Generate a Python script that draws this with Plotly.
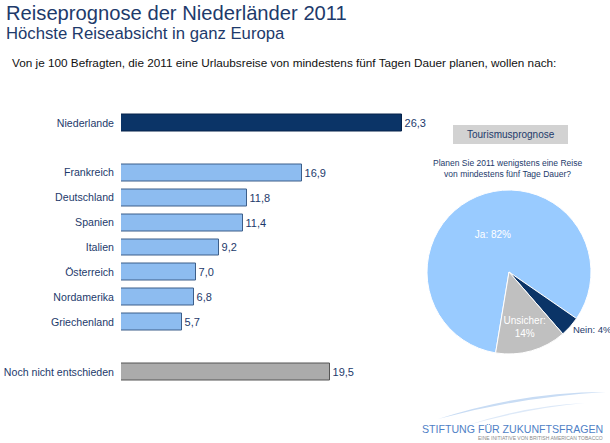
import plotly.graph_objects as go

# ---- data ----
categories = ["Niederlande", "Frankreich", "Deutschland", "Spanien", "Italien",
              "Österreich", "Nordamerika", "Griechenland", "Noch nicht entschieden"]
values = [26.3, 16.9, 11.8, 11.4, 9.2, 7.0, 6.8, 5.7, 19.5]
positions = [0, 2, 3, 4, 5, 6, 7, 8, 10]   # slots, with gaps after first and before last
bar_colors = ["#0b3467"] + ["#8dbcf0"] * 7 + ["#ababab"]
bar_edges = ["#06224a"] + ["#3d5f8a"] * 7 + ["#555555"]

pie_labels = ["Ja", "Nein", "Unsicher"]
pie_values = [82, 4, 14]
pie_colors = ["#99cbff", "#0b3467", "#c0c0c0"]

W, H = 610, 443
NAVY = "#1d3a6b"
FONT = "Liberation Sans, Arial, sans-serif"

fig = go.Figure()

fig.add_trace(go.Bar(
    y=positions, x=values, orientation="h",
    marker=dict(color=bar_colors, line=dict(color=bar_edges, width=1)),
    width=0.68,
    text=values, texttemplate="%{x:.1f}", textposition="outside",
    textfont=dict(size=11, color=NAVY, family=FONT),
    cliponaxis=False, hoverinfo="skip", showlegend=False,
))

fig.add_trace(go.Pie(
    labels=pie_labels, values=pie_values, sort=False,
    direction="clockwise", rotation=189.4,
    marker=dict(colors=pie_colors, line=dict(color="white", width=1)),
    texttemplate=["Ja: %{percent:.0%}", "Nein: %{percent:.0%}", "Unsicher:<br>%{percent:.0%}"],
    textposition=["inside", "outside", "inside"],
    insidetextorientation="horizontal",
    textfont=dict(size=[10, 9.5, 10], family=FONT, color=["white", NAVY, "white"]),
    domain=dict(x=[427 / W, 591 / W], y=[(H - 354) / H, (H - 190) / H]),
    showlegend=False, hoverinfo="skip",
))

px_per_unit = 10.7
x0 = 121
xmax = 28
fig.update_xaxes(range=[0, xmax], domain=[x0 / W, (x0 + xmax * px_per_unit) / W],
                 visible=False, fixedrange=True, automargin=False)
fig.update_yaxes(range=[10.5, -0.5], domain=[(H - 384.5) / H, (H - 110.5) / H],
                 tickvals=positions, ticktext=categories, ticks="", showgrid=False,
                 zeroline=False, showline=False, ticklabelstandoff=6, automargin=False,
                 tickfont=dict(size=10.6, color=NAVY, family=FONT))

def ann(text, x, y, size, color=NAVY, xanchor="left", **kw):
    fig.add_annotation(text=text, x=x / W, y=1 - y / H, xref="paper", yref="paper",
                       xanchor=xanchor, yanchor="middle", showarrow=False,
                       font=dict(size=size, color=color, family=FONT), **kw)

ann("Reiseprognose der Niederländer 2011", 4, 13, 20.2)
ann("Höchste Reiseabsicht in ganz Europa", 4, 34, 16.7)
ann("Von je 100 Befragten, die 2011 eine Urlaubsreise von mindestens fünf Tagen Dauer planen, wollen nach:",
    10, 62, 11.75, color="#111111")

# Tourismusprognose box
fig.add_shape(type="rect", xref="paper", yref="paper",
              x0=453 / W, x1=568 / W, y0=1 - 144 / H, y1=1 - 125 / H,
              fillcolor="#d2d2d2", line=dict(width=0), layer="below")
ann("Tourismusprognose", 510.5, 134.5, 10, xanchor="center")
ann("Planen Sie 2011 wenigstens eine Reise<br>von mindestens fünf Tage Dauer?", 507, 168, 8.5,
    xanchor="center", align="center")

# logo
fig.add_shape(type="path", xref="paper", yref="paper",
              path=f"M {438/W} {1-419/H} Q {520/W} {1-392/H} {606/W} {1-392/H} "
                   f"Q {520/W} {1-397/H} {438/W} {1-419/H} Z",
              fillcolor="#c8dcf4", line=dict(width=0))
fig.add_shape(type="path", xref="paper", yref="paper",
              path=f"M {468/W} {1-425/H} Q {530/W} {1-405/H} {585/W} {1-403/H} "
                   f"Q {530/W} {1-408/H} {468/W} {1-425/H} Z",
              fillcolor="#dde9f8", line=dict(width=0))
ann("STIFTUNG FÜR ZUKUNFTSFRAGEN", 605, 429, 10.6, color="#4f7fc6", xanchor="right")
ann("EINE INITIATIVE VON BRITISH AMERICAN TOBACCO", 605, 438, 5, color="#8a8a8a", xanchor="right")

fig.update_layout(
    width=W, height=H, margin=dict(l=0, r=0, t=0, b=0, autoexpand=False),
    paper_bgcolor="white", plot_bgcolor="white",
    separators=",.", bargap=0, font=dict(family=FONT),
)

fig.write_html("out.html", config={"displayModeBar": False})
